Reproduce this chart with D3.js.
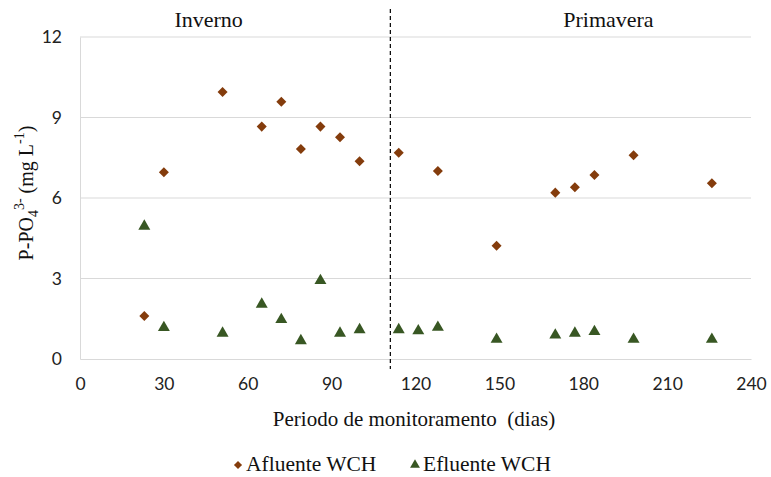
<!DOCTYPE html>
<html>
<head>
<meta charset="utf-8">
<script src="https://cdn.jsdelivr.net/npm/d3@7"></script>
<style>
  html, body { margin: 0; padding: 0; background: #fff; }
  svg { display: block; }
</style>
</head>
<body>
<svg id="chart" width="771" height="477"></svg>
<script>
// Monitoring days and P-PO4 concentrations (mg/L)
const afluenteDias = [23, 30, 51, 65, 72, 79, 86, 93, 100, 114, 128, 149, 170, 177, 184, 198, 226];
const afluenteValores = [1.6, 6.96, 9.95, 8.66, 9.59, 7.83, 8.66, 8.26, 7.37, 7.69, 7.01, 4.22, 6.2, 6.4, 6.86, 7.59, 6.55];

const efluenteDias = [23, 30, 51, 65, 72, 79, 86, 93, 100, 114, 121, 128, 149, 170, 177, 184, 198, 226];
const efluenteValores = [4.95, 1.17, 0.96, 2.04, 1.47, 0.68, 2.92, 0.96, 1.09, 1.09, 1.05, 1.18, 0.73, 0.89, 0.96, 1.02, 0.73, 0.73];

const xTicks = [0, 30, 60, 90, 120, 150, 180, 210, 240];
const yTicks = [0, 3, 6, 9, 12];

// Season boundary and labels
const limiteEstacao = 111;
const estacoes = [
  { nome: "Inverno", dia: 46 },
  { nome: "Primavera", dia: 189 }
];

const svg = d3.select("#chart");
const plotLeft = 80, plotRight = 751, plotTop = 37, plotBottom = 359;

const x = d3.scaleLinear().domain([0, 240]).range([plotLeft, plotRight]);
const y = d3.scaleLinear().domain([0, 12]).range([plotBottom, plotTop]);

const sansFont = "Lato, 'Open Sans', sans-serif";
const serifFont = "'Liberation Serif', 'Times New Roman', serif";

// Horizontal gridlines
svg.append("g")
  .selectAll("line")
  .data(yTicks.filter(d => d > 0))
  .join("line")
  .attr("x1", plotLeft).attr("x2", plotRight)
  .attr("y1", d => y(d)).attr("y2", d => y(d))
  .attr("stroke", "#d9d9d9").attr("stroke-width", 1);

// Y axis
const yAxis = svg.append("g")
  .attr("transform", `translate(${plotLeft},0)`)
  .call(d3.axisLeft(y).tickValues(yTicks).tickSize(0).tickPadding(18));
yAxis.select(".domain").attr("stroke", "#d9d9d9");
yAxis.selectAll("text")
  .attr("font-family", sansFont).attr("font-size", 17.5).attr("fill", "#222");

// X axis
const xAxis = svg.append("g")
  .attr("transform", `translate(0,${plotBottom})`)
  .call(d3.axisBottom(x).tickValues(xTicks).tickSize(0).tickPadding(19));
xAxis.select(".domain").attr("stroke", "#d9d9d9");
xAxis.selectAll("text")
  .attr("font-family", sansFont).attr("font-size", 17.5).attr("fill", "#222");

// Dashed season boundary
svg.append("line")
  .attr("x1", x(limiteEstacao)).attr("x2", x(limiteEstacao))
  .attr("y1", 9).attr("y2", 369)
  .attr("stroke", "#000").attr("stroke-width", 1.2)
  .attr("stroke-dasharray", "4,3");

// Season labels
svg.append("g")
  .selectAll("text")
  .data(estacoes)
  .join("text")
  .attr("x", d => x(d.dia)).attr("y", 27)
  .attr("text-anchor", "middle")
  .attr("font-family", serifFont).attr("font-size", 22).attr("fill", "#111")
  .text(d => d.nome);

const diamond = d3.symbol().type(d3.symbolDiamond2).size(64);
const triangle = d3.symbol().type(d3.symbolTriangle).size(62);

const corAfluente = "#843c0c";
const corEfluente = "#385723";

// Afluente markers
svg.append("g")
  .selectAll("path")
  .data(afluenteDias.map((d, i) => [d, afluenteValores[i]]))
  .join("path")
  .attr("d", diamond)
  .attr("transform", d => `translate(${x(d[0])},${y(d[1])})`)
  .attr("fill", corAfluente);

// Efluente markers
svg.append("g")
  .selectAll("path")
  .data(efluenteDias.map((d, i) => [d, efluenteValores[i]]))
  .join("path")
  .attr("d", triangle)
  .attr("transform", d => `translate(${x(d[0])},${y(d[1])})`)
  .attr("fill", corEfluente);

// Axis titles
svg.append("text")
  .attr("x", 414).attr("y", 426)
  .attr("text-anchor", "middle")
  .attr("font-family", serifFont).attr("font-size", 21).attr("fill", "#111")
  .attr("xml:space", "preserve")
  .text("Periodo de monitoramento  (dias)");

const yTitle = svg.append("text")
  .attr("transform", "translate(33,193) rotate(-90)")
  .attr("text-anchor", "middle")
  .attr("font-family", serifFont).attr("font-size", 20).attr("fill", "#111");
yTitle.append("tspan").text("P-PO");
yTitle.append("tspan").attr("dy", 5).attr("font-size", 14).text("4");
yTitle.append("tspan").attr("dy", -14).attr("font-size", 14).text("3-");
yTitle.append("tspan").attr("dy", 9).text(" (mg L");
yTitle.append("tspan").attr("dy", -9).attr("font-size", 14).text("-1");
yTitle.append("tspan").attr("dy", 9).text(")");

// Legend
const legenda = [
  { nome: "Afluente WCH", tipo: d3.symbolDiamond2, cor: corAfluente, x: 238 },
  { nome: "Efluente WCH", tipo: d3.symbolTriangle, cor: corEfluente, x: 415 }
];
const lg = svg.append("g").selectAll("g").data(legenda).join("g")
  .attr("transform", d => `translate(${d.x},465)`);
lg.append("path")
  .attr("d", d => d3.symbol().type(d.tipo).size(42)())
  .attr("fill", d => d.cor);
lg.append("text")
  .attr("x", 8).attr("y", 6)
  .attr("font-family", serifFont).attr("font-size", 21.5).attr("fill", "#111")
  .text(d => d.nome);
</script>
</body>
</html>
